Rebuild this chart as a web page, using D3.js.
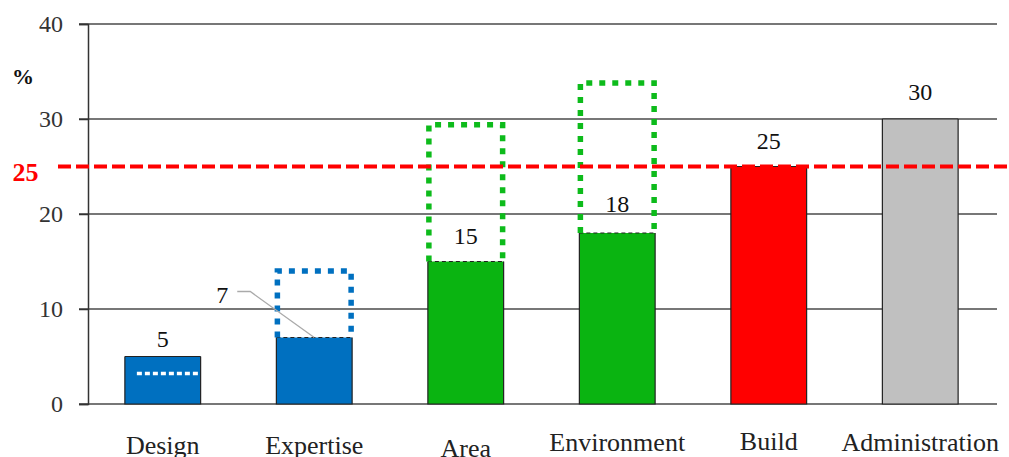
<!DOCTYPE html>
<html>
<head>
<meta charset="utf-8">
<script src="https://cdn.jsdelivr.net/npm/d3@7/dist/d3.min.js"></script>
<style>
  html, body { margin: 0; padding: 0; background: #fff; }
  svg { display: block; }
  svg text { font-family: "Liberation Serif", "DejaVu Serif", "Noto Serif", serif !important; }
</style>
</head>
<body>
<svg id="chart" width="1009" height="457"></svg>
<script>
// Share of each activity (%)
const categories = ["Design", "Expertise", "Area", "Environment", "Build", "Administration"];
const values = [5, 7, 15, 18, 25, 30];
// Upper bound of the dotted outline above a bar (null = none)
const targets = [null, 14, 29.4, 33.8, null, null];
// Dotted level drawn inside the Design bar
const designInner = 3.2;
// Reference level
const threshold = 25;
const yTicks = [0, 10, 20, 30, 40];

const SERIF = "'Liberation Serif', 'DejaVu Serif', serif";
const barColors = ["#0070C0", "#0070C0", "#0AB411", "#0AB411", "#FF0000", "#C0C0C0"];
const boxColors = [null, "#0070C0", "#0DBB1B", "#0DBB1B", null, null];
// Gap between bar top and its value label baseline
const labelGap = [10, 0, 18, 21, 18, 19];
// Baselines of the category labels
const catBaseline = [454, 454, 457, 451, 450, 451];

const svg = d3.select("#chart");

const x = d3.scaleBand().domain(categories).range([87, 996]).paddingInner(0.5).paddingOuter(0.25);
const y = d3.scaleLinear().domain([0, 40]).range([404, 24]);

// horizontal gridlines
svg.append("g").selectAll("line").data(yTicks).join("line")
  .attr("x1", 79).attr("x2", 997)
  .attr("y1", d => y(d)).attr("y2", d => y(d))
  .attr("stroke", "#4a4a4a").attr("stroke-width", 1.5);

// y axis
const yAxis = svg.append("g").attr("transform", "translate(88,0)")
  .call(d3.axisLeft(y).tickValues(yTicks).tickSize(9).tickPadding(16));
yAxis.attr("font-family", SERIF);
yAxis.select(".domain").attr("stroke", "#333").attr("stroke-width", 1.5);
yAxis.selectAll(".tick line").attr("stroke", "#333").attr("stroke-width", 1.5);
yAxis.selectAll(".tick text")
  .attr("font-family", SERIF)
  .attr("font-size", 24).attr("fill", "#333").attr("dy", "0.33em");

// bars
const bars = svg.append("g");
categories.forEach((c, i) => {
  const x0 = x(c), w = x.bandwidth(), top = y(values[i]), bot = y(0);
  bars.append("rect")
    .attr("x", x0).attr("y", top).attr("width", w).attr("height", bot - top)
    .attr("fill", barColors[i]);
  const hasBox = targets[i] !== null;
  // outline: sides and bottom solid, top dashed where an outline box sits on it
  bars.append("path")
    .attr("d", `M${x0},${top}V${bot}H${x0 + w}V${top}`)
    .attr("fill", "none").attr("stroke", "#222").attr("stroke-width", 1.2);
  bars.append("line")
    .attr("x1", x0).attr("x2", x0 + w).attr("y1", top).attr("y2", top)
    .attr("stroke", "#222").attr("stroke-width", 1.2)
    .attr("stroke-dasharray", hasBox ? "4,3" : null);
});

// dotted target outlines
categories.forEach((c, i) => {
  if (targets[i] === null) return;
  const x0 = x(c) + 1, x1 = x(c) + x.bandwidth() - 1;
  const top = y(targets[i]), bot = y(values[i]);
  svg.append("path")
    .attr("d", `M${x0},${bot}V${top}H${x1}V${bot}`)
    .attr("fill", "none").attr("stroke", boxColors[i])
    .attr("stroke-width", 5.5).attr("stroke-dasharray", "6,7");
});

// white dotted level inside the Design bar
svg.append("line")
  .attr("x1", x("Design") + 12).attr("x2", x("Design") + x.bandwidth())
  .attr("y1", y(designInner)).attr("y2", y(designInner))
  .attr("stroke", "#fff").attr("stroke-width", 3.5).attr("stroke-dasharray", "5,3");

// value labels
categories.forEach((c, i) => {
  if (c === "Expertise") return;
  svg.append("text")
    .attr("x", x(c) + x.bandwidth() / 2)
    .attr("y", y(values[i]) - labelGap[i])
    .attr("text-anchor", "middle").attr("font-family", SERIF)
    .attr("font-size", 24).attr("fill", "#111")
    .text(values[i]);
});

// Expertise label with leader line
{
  const cx = x("Expertise") + x.bandwidth() / 2, top = y(values[1]);
  svg.append("path")
    .attr("d", `M${cx - 77},${top - 46}H${cx - 64}L${cx},${top}`)
    .attr("fill", "none").attr("stroke", "#aaa").attr("stroke-width", 1.3);
  svg.append("text")
    .attr("x", cx - 92).attr("y", top - 35)
    .attr("text-anchor", "middle").attr("font-family", SERIF)
    .attr("font-size", 24).attr("fill", "#111")
    .text(values[1]);
}

// category labels
svg.append("g").selectAll("text").data(categories).join("text")
  .attr("x", d => x(d) + x.bandwidth() / 2)
  .attr("y", (d, i) => catBaseline[i])
  .attr("text-anchor", "middle").attr("font-family", SERIF)
  .attr("font-size", 26).attr("fill", "#222")
  .text(d => d);

// reference line
svg.append("line")
  .attr("x1", 58).attr("x2", 1009)
  .attr("y1", y(threshold)).attr("y2", y(threshold))
  .attr("stroke", "#FF0000").attr("stroke-width", 4).attr("stroke-dasharray", "13,5");

svg.append("text")
  .attr("x", 25.5).attr("y", y(threshold) + 14)
  .attr("text-anchor", "middle").attr("font-family", SERIF)
  .attr("font-size", 26).attr("font-weight", "bold")
  .attr("fill", "#FF0000").text(threshold);

// unit label
svg.append("text")
  .attr("x", 23).attr("y", 84)
  .attr("text-anchor", "middle").attr("font-family", SERIF)
  .attr("font-size", 22).attr("font-weight", "bold")
  .attr("fill", "#111").text("%");
</script>
</body>
</html>
